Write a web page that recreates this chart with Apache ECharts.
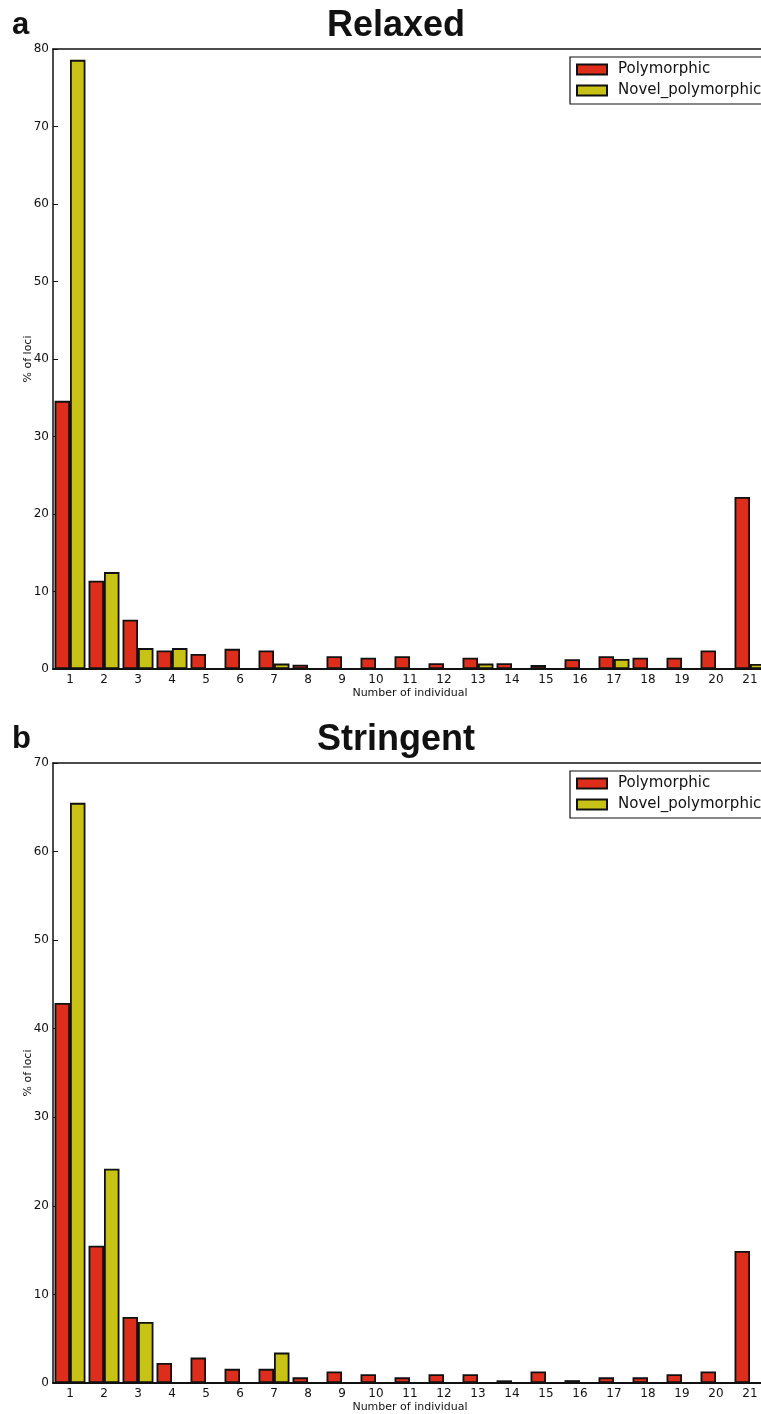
<!DOCTYPE html>
<html>
<head>
<meta charset="utf-8">
<script src="https://cdn.jsdelivr.net/npm/echarts@6/dist/echarts.min.js"></script>
<style>html,body{margin:0;padding:0;background:#fff;overflow:hidden;}#c{width:780px;height:1414px;}</style>
</head>
<body>
<div id="c"></div>
<script>
const categories = ['1','2','3','4','5','6','7','8','9','10','11','12','13','14','15','16','17','18','19','20','21'];
const relaxedPolymorphic = [34.6, 11.4, 6.35, 2.4, 1.95, 2.6, 2.4, 0.55, 1.65, 1.45, 1.65, 0.75, 1.45, 0.75, 0.5, 1.25, 1.65, 1.45, 1.45, 2.4, 22.2];
const relaxedNovel = [78.6, 12.5, 2.7, 2.7, 0, 0, 0.7, 0, 0, 0, 0, 0, 0.7, 0, 0, 0, 1.3, 0, 0, 0, 0.65];
const stringentPolymorphic = [42.9, 15.5, 7.45, 2.26, 2.87, 1.6, 1.6, 0.64, 1.29, 0.98, 0.64, 0.98, 0.98, 0.3, 1.29, 0.32, 0.64, 0.64, 0.98, 1.29, 14.9];
const stringentNovel = [65.5, 24.2, 6.9, 0, 0, 0, 3.43, 0, 0, 0, 0, 0, 0, 0, 0, 0, 0, 0, 0, 0, 0];
const relaxedYTicks = {min: 0, max: 80, interval: 10};
const stringentYTicks = {min: 0, max: 70, interval: 10};

const RED = '#de2d1a', YEL = '#c8c216';
const tickFont = {fontFamily: 'DejaVu Sans', fontSize: 12, color: '#111'};
const chart = echarts.init(document.getElementById('c'), null, {renderer: 'canvas'});

const grids = [
  {left: 53, top: 49, width: 714, height: 620},
  {left: 53, top: 763, width: 714, height: 620}
];
function xAxes(gi) {
  return [
    {type: 'category', gridIndex: gi, data: categories, position: 'bottom',
     axisLine: {lineStyle: {color: '#111', width: 2}},
     axisTick: {inside: true, alignWithLabel: true, length: 5, lineStyle: {color: '#111'}},
     axisLabel: Object.assign({margin: 5}, tickFont),
     name: 'Number of individual', nameLocation: 'middle', nameGap: 19,
     nameTextStyle: {fontFamily: 'DejaVu Sans', fontSize: 11, color: '#111'}},
    {type: 'category', gridIndex: gi, data: categories, position: 'top',
     axisLine: {lineStyle: {color: '#111', width: 1.5}},
     axisTick: {inside: true, alignWithLabel: true, length: 5, lineStyle: {color: '#111'}},
     axisLabel: {show: false}}
  ];
}
function yAxis(gi, t) {
  return {type: 'value', gridIndex: gi, min: t.min, max: t.max, interval: t.interval,
    splitLine: {show: false},
    axisLine: {show: true, lineStyle: {color: '#111', width: 1.5}},
    axisTick: {show: true, inside: true, length: 5, lineStyle: {color: '#111'}},
    axisLabel: Object.assign({margin: 4}, tickFont),
    name: '% of loci', nameLocation: 'middle', nameGap: 19, nameRotate: 90, nameMoveOverlap: false,
    nameTextStyle: {fontFamily: 'DejaVu Sans', fontSize: 11, color: '#111'}};
}
function bars(name, data, color, xi, yi) {
  return {type: 'bar', name: name, data: data, xAxisIndex: xi, yAxisIndex: yi,
    barGap: '0%', barCategoryGap: '9%', animation: false,
    itemStyle: {color: color, borderColor: '#111', borderWidth: 1.8}};
}
function legend(top) {
  return {top: top, left: 570, orient: 'vertical', icon: 'rect', itemWidth: 30, itemHeight: 10, itemGap: 6,
    padding: [5, 8, 6, 6], borderColor: '#111', borderWidth: 1.2, backgroundColor: '#fff',
    selectedMode: false,
    textStyle: {fontFamily: 'DejaVu Sans', fontSize: 15, color: '#111', padding: [0, 0, 0, 6]},
    data: ['Polymorphic', 'Novel_polymorphic']};
}

chart.setOption({
  backgroundColor: '#fff',
  animation: false,
  title: [
    {text: 'Relaxed', left: 391, top: 3, textAlign: 'center',
     textStyle: {fontFamily: 'Liberation Sans', fontWeight: 'bold', fontSize: 36, color: '#111'}},
    {text: 'Stringent', left: 391, top: 717, textAlign: 'center',
     textStyle: {fontFamily: 'Liberation Sans', fontWeight: 'bold', fontSize: 36, color: '#111'}}
  ],
  graphic: [
    {type: 'text', left: 12, top: 10, style: {text: 'a', font: 'bold 31px "Liberation Sans"', fill: '#111'}},
    {type: 'text', left: 12, top: 724, style: {text: 'b', font: 'bold 31px "Liberation Sans"', fill: '#111'}}
  ],
  legend: [legend(57), legend(771)],
  grid: grids,
  xAxis: xAxes(0).concat(xAxes(1)),
  yAxis: [yAxis(0, relaxedYTicks), yAxis(1, stringentYTicks)],
  series: [
    bars('Polymorphic', relaxedPolymorphic, RED, 0, 0),
    bars('Novel_polymorphic', relaxedNovel, YEL, 0, 0),
    bars('Polymorphic', stringentPolymorphic, RED, 2, 1),
    bars('Novel_polymorphic', stringentNovel, YEL, 2, 1)
  ]
});
</script>
</body>
</html>
